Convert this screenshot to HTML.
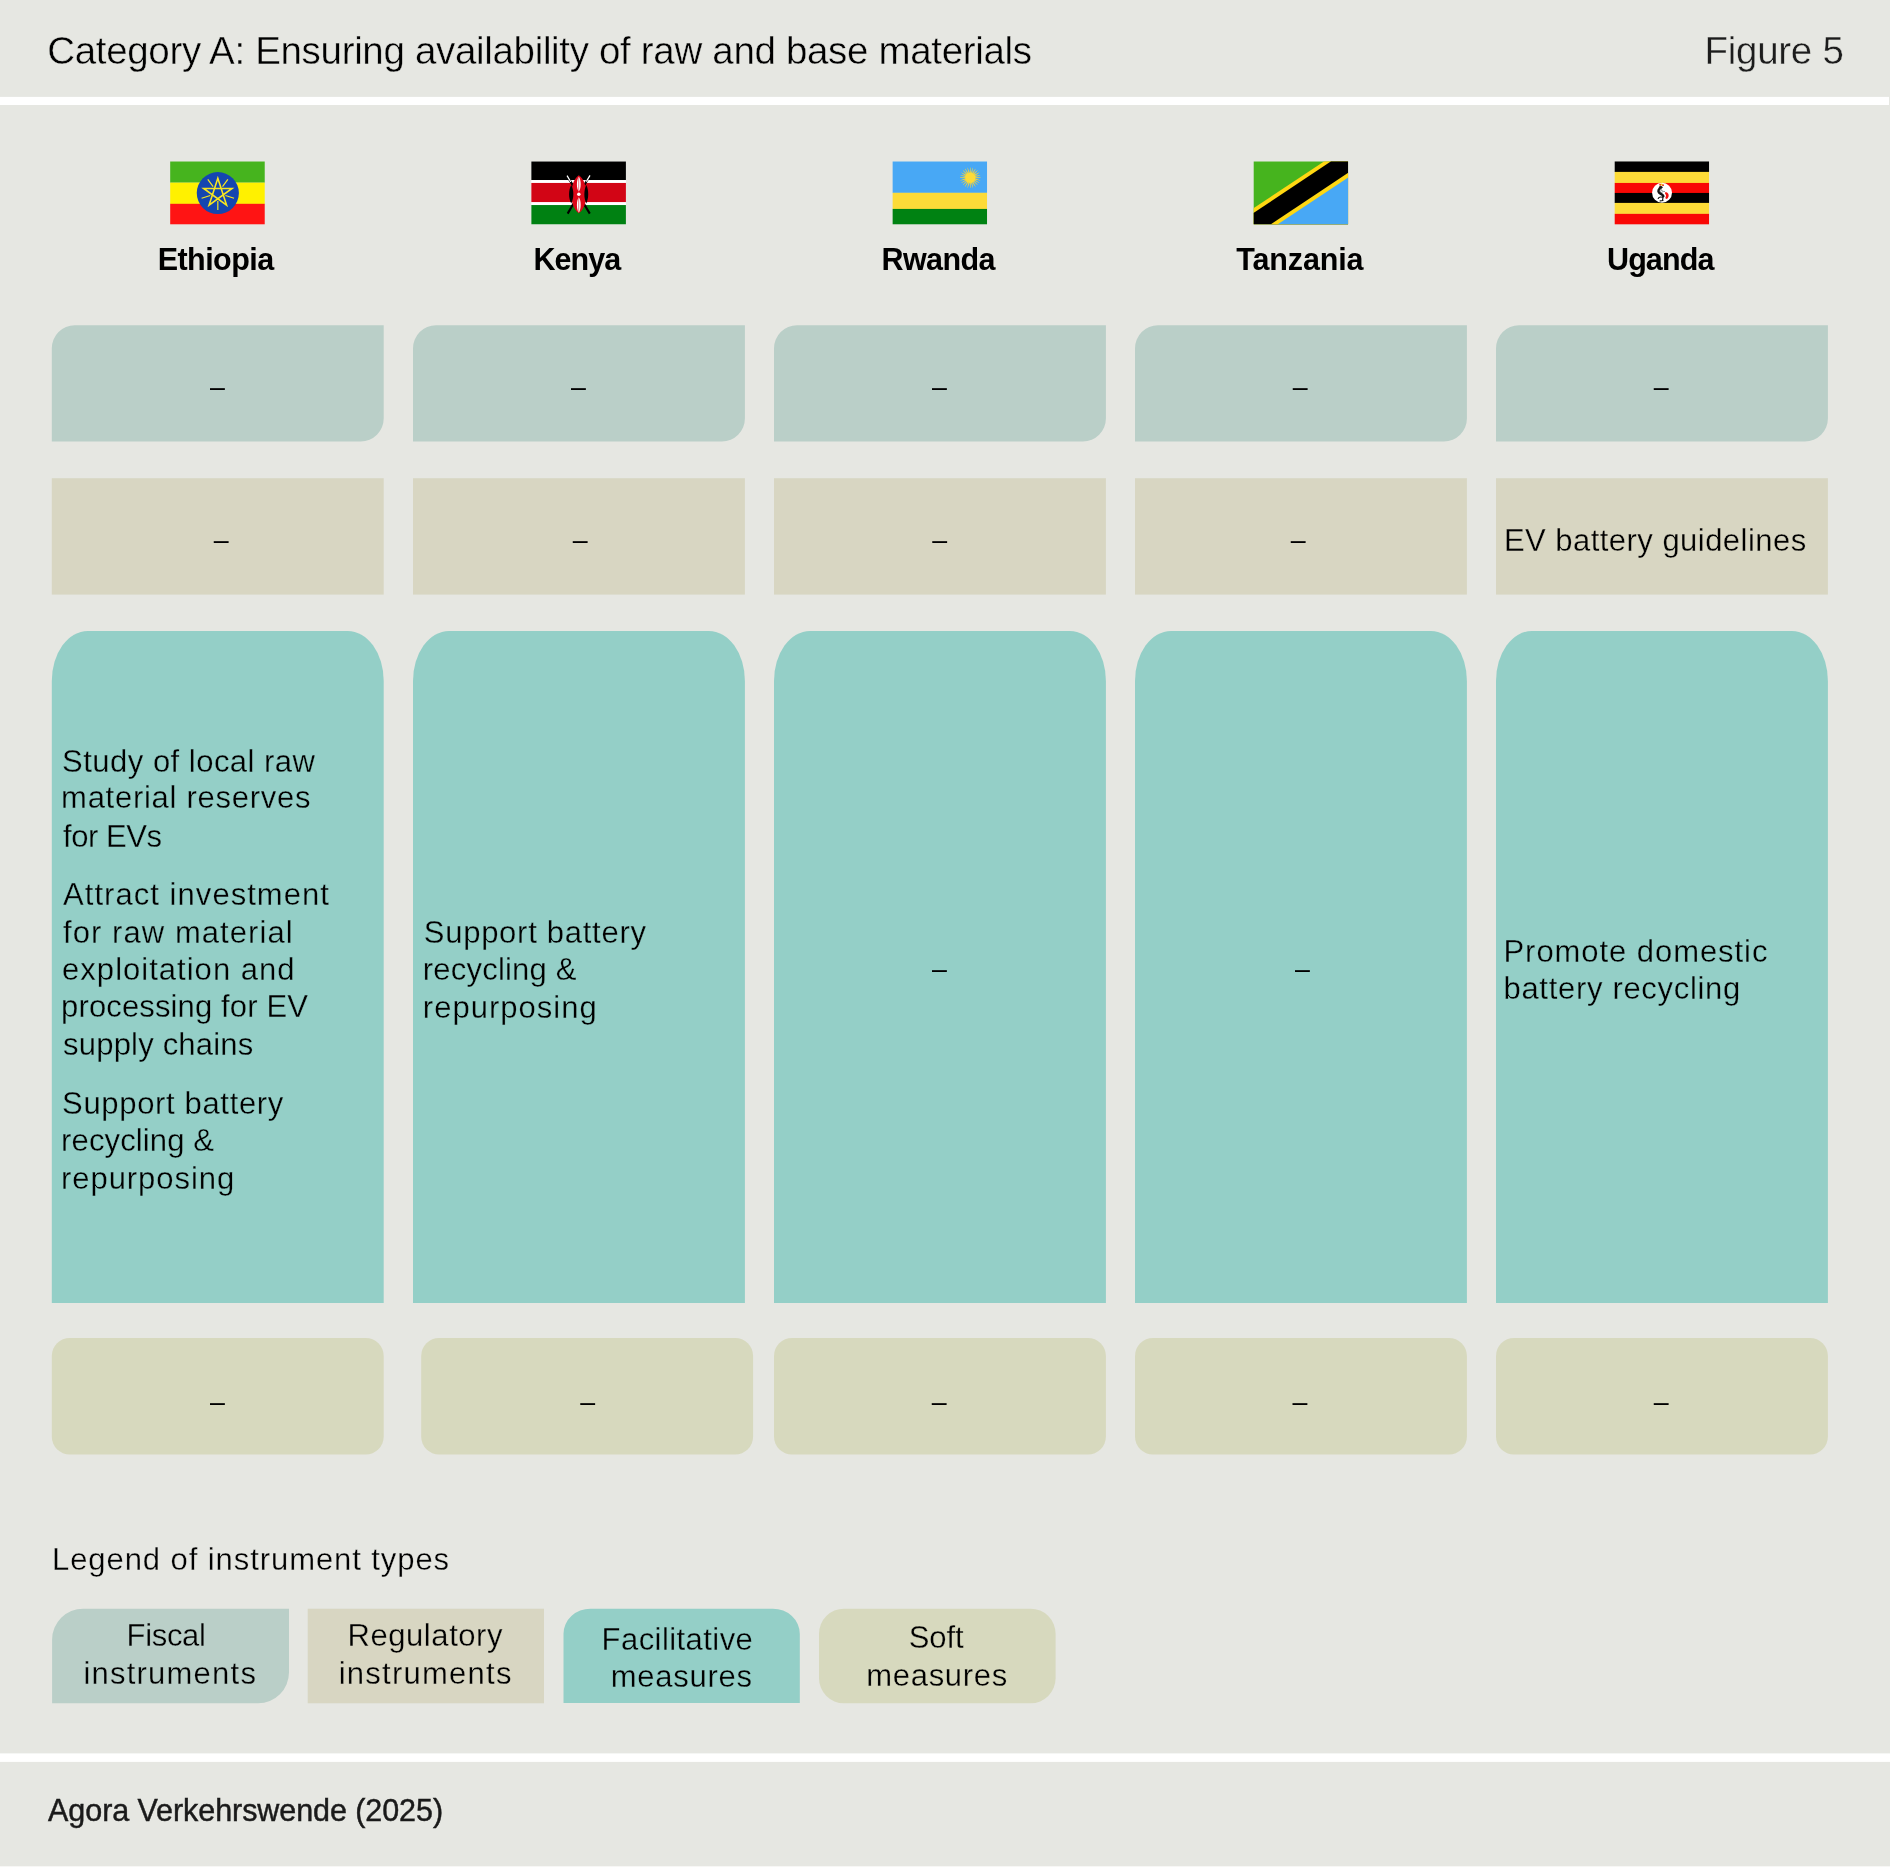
<!DOCTYPE html>
<html lang="en"><head><meta charset="utf-8"><title>Category A: Ensuring availability of raw and base materials</title>
<style>
html,body{margin:0;padding:0}
body{width:1890px;height:1867px;background:#E6E7E2;position:relative;overflow:hidden;font-family:"Liberation Sans",sans-serif}
.tx{position:absolute;left:0;top:0;width:1890px;height:1867px;will-change:transform}
.t{position:absolute;white-space:nowrap;display:block}
.fl{position:absolute;left:0;top:0;display:block}
</style></head><body>
<svg class="fl" width="1890" height="1867" viewBox="0 0 1890 1867">
<path fill="#BACFC8" d="M74.80,325.2 H383.70 V418.40 A23,23 0 0 1 360.70,441.40 H51.8 V348.20 A23,23 0 0 1 74.80,325.2 Z"/>
<rect fill="#D8D6C2" x="51.8" y="478.2" width="331.9" height="116.4"/>
<path fill="#94CFC7" d="M51.8,1302.90 V680.90 A36,50 0 0 1 87.80,630.9 H347.70 A36,50 0 0 1 383.70,680.90 V1302.90 Z"/>
<path fill="#BACFC8" d="M436.00,325.2 H744.90 V418.40 A23,23 0 0 1 721.90,441.40 H413.0 V348.20 A23,23 0 0 1 436.00,325.2 Z"/>
<rect fill="#D8D6C2" x="413.0" y="478.2" width="331.9" height="116.4"/>
<path fill="#94CFC7" d="M413.0,1302.90 V680.90 A36,50 0 0 1 449.00,630.9 H708.90 A36,50 0 0 1 744.90,680.90 V1302.90 Z"/>
<path fill="#BACFC8" d="M797.00,325.2 H1105.90 V418.40 A23,23 0 0 1 1082.90,441.40 H774.0 V348.20 A23,23 0 0 1 797.00,325.2 Z"/>
<rect fill="#D8D6C2" x="774.0" y="478.2" width="331.9" height="116.4"/>
<path fill="#94CFC7" d="M774.0,1302.90 V680.90 A36,50 0 0 1 810.00,630.9 H1069.90 A36,50 0 0 1 1105.90,680.90 V1302.90 Z"/>
<path fill="#BACFC8" d="M1158.00,325.2 H1466.90 V418.40 A23,23 0 0 1 1443.90,441.40 H1135.0 V348.20 A23,23 0 0 1 1158.00,325.2 Z"/>
<rect fill="#D8D6C2" x="1135.0" y="478.2" width="331.9" height="116.4"/>
<path fill="#94CFC7" d="M1135.0,1302.90 V680.90 A36,50 0 0 1 1171.00,630.9 H1430.90 A36,50 0 0 1 1466.90,680.90 V1302.90 Z"/>
<path fill="#BACFC8" d="M1519.00,325.2 H1827.90 V418.40 A23,23 0 0 1 1804.90,441.40 H1496.0 V348.20 A23,23 0 0 1 1519.00,325.2 Z"/>
<rect fill="#D8D6C2" x="1496.0" y="478.2" width="331.9" height="116.4"/>
<path fill="#94CFC7" d="M1496.0,1302.90 V680.90 A36,50 0 0 1 1532.00,630.9 H1791.90 A36,50 0 0 1 1827.90,680.90 V1302.90 Z"/>
<rect fill="#D7D9BE" x="51.8" y="1338" width="331.9" height="116.5" rx="18" ry="18"/>
<rect fill="#D7D9BE" x="421.2" y="1338" width="331.9" height="116.5" rx="18" ry="18"/>
<rect fill="#D7D9BE" x="774.0" y="1338" width="331.9" height="116.5" rx="18" ry="18"/>
<rect fill="#D7D9BE" x="1135.0" y="1338" width="331.9" height="116.5" rx="18" ry="18"/>
<rect fill="#D7D9BE" x="1496.0" y="1338" width="331.9" height="116.5" rx="18" ry="18"/>
<path fill="#BACFC8" d="M83.10,1608.7 H289.00 V1672.30 A31,31 0 0 1 258.00,1703.30 H52.1 V1639.70 A31,31 0 0 1 83.10,1608.7 Z"/>
<rect fill="#D8D6C2" x="307.7" y="1608.7" width="236.3" height="94.6"/>
<path fill="#94CFC7" d="M563.5,1703.00 V1633.70 A27,25 0 0 1 590.50,1608.7 H772.80 A27,25 0 0 1 799.80,1633.70 V1703.00 Z"/>
<rect fill="#D7D9BE" x="819" y="1608.7" width="236.6" height="94.6" rx="25" ry="25"/>
<rect fill="#fff" x="0" y="96.9" width="1889" height="8.1"/>
<rect fill="#fff" x="0" y="1753.4" width="1890" height="8.5"/>
<rect fill="#F7F7F5" x="0" y="1866" width="1890" height="1"/>
</svg>
<svg class="fl" width="1890" height="300" viewBox="0 0 1890 300">
<svg x="170.1" y="161.35" width="94.75" height="63.2" viewBox="0 0 94.9 63.5" preserveAspectRatio="none"><rect width="94.9" height="21.45" fill="#46B41E"/><rect y="21.4" width="94.9" height="21.4" fill="#FFF100"/><rect y="42.65" width="94.9" height="20.85" fill="#FF1414"/><circle cx="47.8" cy="31.85" r="21.1" fill="#1446B0"/><path d="M47.80,16.95 L56.56,43.90 L33.63,27.25 L61.97,27.25 L39.04,43.90Z" fill="none" stroke="#F7E521" stroke-width="1.6" stroke-linejoin="miter"/><path d="M52.50,25.38L57.85,18.02M55.41,34.32L64.06,37.13M47.80,39.85L47.80,48.95M40.19,34.32L31.54,37.13M43.10,25.38L37.75,18.02" fill="none" stroke="#F7E521" stroke-width="1.2"/></svg>
<svg x="531.2" y="161.35" width="94.75" height="63.2" viewBox="0 0 94.9 63.5" preserveAspectRatio="none"><rect width="94.9" height="63.5" fill="#fff"/><rect width="94.9" height="18.75" fill="#000"/><rect y="21.7" width="94.9" height="19.2" fill="#D20515"/><rect y="43.9" width="94.9" height="19.6" fill="#008112"/><path d="M35.7,14.1 L58.7,52.5 M59.1,13.8 L36.5,52.5" stroke="#000" stroke-width="2.1" fill="none"/><path d="M35.9,14.4 L39.7,20.7 M58.9,14.1 L55.2,20.4" stroke="#fff" stroke-width="1.25" fill="none"/><path d="M47.7,14.049999999999997 C53.6,18.449999999999996 54.900000000000006,25.449999999999996 54.900000000000006,33.05 C54.900000000000006,40.65 53.6,47.65 47.7,52.05 C41.800000000000004,47.65 40.5,40.65 40.5,33.05 C40.5,25.449999999999996 41.800000000000004,18.449999999999996 47.7,14.049999999999997Z" fill="#DC0617"/><path d="M40.1,23.849999999999998 C42.96666666666667,28.909999999999997 42.96666666666667,37.19 40.1,42.25 C37.233333333333334,37.19 37.233333333333334,28.909999999999997 40.1,23.849999999999998Z M55.2,23.849999999999998 C57.800000000000004,28.909999999999997 57.800000000000004,37.19 55.2,42.25 C52.6,37.19 52.6,28.909999999999997 55.2,23.849999999999998Z" fill="#000"/><path d="M47.7,15.349999999999998 C50.233333333333334,18.199999999999996 50.233333333333334,27.5 47.7,30.349999999999998 C45.16666666666667,27.5 45.16666666666667,18.199999999999996 47.7,15.349999999999998Z M47.7,36.05 C50.233333333333334,38.976 50.233333333333334,48.524 47.7,51.45 C45.16666666666667,48.524 45.16666666666667,38.976 47.7,36.05Z" fill="#fff"/><path d="M47.6,16.049999999999997 V29.65 M47.6,36.65 V50.65" stroke="#DC0617" stroke-width="0.55"/><circle cx="47.7" cy="33.15" r="1.75" fill="#fff"/></svg>
<svg x="892.4" y="161.35" width="94.75" height="63.2" viewBox="0 0 94.9 63.5" preserveAspectRatio="none"><rect width="94.9" height="31.7" fill="#48A8F5"/><rect y="31.6" width="94.9" height="16.3" fill="#FDDB38"/><rect y="47.8" width="94.9" height="15.7" fill="#008212"/><path d="M82.20,17.07L82.20,15.83L88.30,16.29L88.30,16.61ZM81.90,18.14L82.22,16.94L87.99,18.96L87.91,19.27ZM81.33,19.09L81.95,18.01L87.00,21.46L86.84,21.74ZM80.53,19.86L81.41,18.98L85.40,23.62L85.17,23.85ZM79.56,20.40L80.64,19.78L83.29,25.29L83.01,25.45ZM78.49,20.67L79.69,20.35L80.82,26.36L80.51,26.44ZM77.38,20.65L78.62,20.65L78.16,26.75L77.84,26.75ZM76.31,20.35L77.51,20.67L75.49,26.44L75.18,26.36ZM75.36,19.78L76.44,20.40L72.99,25.45L72.71,25.29ZM74.59,18.98L75.47,19.86L70.83,23.85L70.60,23.62ZM74.05,18.01L74.67,19.09L69.16,21.74L69.00,21.46ZM73.78,16.94L74.10,18.14L68.09,19.27L68.01,18.96ZM73.80,15.83L73.80,17.07L67.70,16.61L67.70,16.29ZM74.10,14.76L73.78,15.96L68.01,13.94L68.09,13.63ZM74.67,13.81L74.05,14.89L69.00,11.44L69.16,11.16ZM75.47,13.04L74.59,13.92L70.60,9.28L70.83,9.05ZM76.44,12.50L75.36,13.12L72.71,7.61L72.99,7.45ZM77.51,12.23L76.31,12.55L75.18,6.54L75.49,6.46ZM78.62,12.25L77.38,12.25L77.84,6.15L78.16,6.15ZM79.69,12.55L78.49,12.23L80.51,6.46L80.82,6.54ZM80.64,13.12L79.56,12.50L83.01,7.45L83.29,7.61ZM81.41,13.92L80.53,13.04L85.17,9.05L85.40,9.28ZM81.95,14.89L81.33,13.81L86.84,11.16L87.00,11.44ZM82.22,15.96L81.90,14.76L87.91,13.63L87.99,13.94Z" fill="#F6D63A"/><circle cx="78.0" cy="16.45" r="5.0" fill="#FDDB38"/></svg>
<svg x="1253.45" y="161.35" width="94.75" height="63.2" viewBox="0 0 94.9 63.5" preserveAspectRatio="none"><rect width="94.9" height="63.5" fill="#46B41E"/><path d="M0,47.1 L71.0,0 H94.9 V63.5 H0Z" fill="#FFD712"/><path d="M0,52.0 L77.8,0 H94.9 V63.5 H0Z" fill="#000"/><path d="M17.1,63.5 L94.9,11.5 V63.5Z" fill="#FFD712"/><path d="M24.0,63.5 L94.9,16.3 V63.5Z" fill="#48A8F5"/></svg>
<svg x="1614.46" y="161.35" width="94.75" height="63.2" viewBox="0 0 94.9 63.5" preserveAspectRatio="none"><rect y="-0.05" width="94.9" height="10.75" fill="#000"/><rect y="10.60" width="94.9" height="11.20" fill="#FDDB38"/><rect y="21.70" width="94.9" height="10.15" fill="#F90805"/><rect y="31.75" width="94.9" height="10.10" fill="#000"/><rect y="41.75" width="94.9" height="11.10" fill="#FDDB38"/><rect y="52.75" width="94.9" height="10.80" fill="#F90805"/><circle cx="47.65" cy="31.6" r="10" fill="#fff"/><g transform="translate(47.65,31.6)"><circle cx="-1.8" cy="-8.1" r="0.95" fill="#E8140F"/><circle cx="-0.4" cy="-8.3" r="1.0" fill="#F2D20F"/><circle cx="1.0" cy="-7.7" r="0.95" fill="#E4360F"/><ellipse cx="-1.3" cy="-5.6" rx="1.8" ry="1.35" fill="#1d1d1d"/><circle cx="-1.9" cy="-5.5" r="0.6" fill="#D9251F"/><path d="M-1.4,-5 C-3.4,-3.6 -4.3,-1.6 -2.9,-0.1 C-1.6,1.2 0.7,1.5 1.3,3.4" fill="none" stroke="#161616" stroke-width="2.5" stroke-linecap="round"/><path d="M-1.1,-3.6 C-1,-2.2 0.4,-1.1 2.5,-1.3" fill="none" stroke="#868b88" stroke-width="1.0" stroke-linecap="round"/><path d="M-2.2,-2.6 C-1.8,-1.2 -0.6,-0.2 0.8,0.4" fill="none" stroke="#6f7472" stroke-width="0.7"/><path d="M1.2,3.2 L0.5,7.6 M-1.9,8.1 L1.0,7.7 M0.7,4.5 C-1,4 -3,4.1 -3.8,5.6" fill="none" stroke="#111" stroke-width="1.15" stroke-linecap="round"/><path d="M3.5,-0.8 C5.8,-0.7 7,1.4 6.6,3.5 C6.2,5.2 5.1,6.3 4.2,6.1 C3,5.6 3.3,4.3 3.9,3.4 C4.4,2.3 3.3,1.3 2.9,0.4Z" fill="#F5120F"/></g></svg>
</svg>
<div class="tx">
<span class="t" style="left:47.20px;top:26px;font-size:38.5px;line-height:50px;letter-spacing:-0.323px;font-weight:400;color:#000;-webkit-text-stroke:0.4px #E6E7E2">Category A: Ensuring availability of raw and base materials</span>
<span class="t" style="left:1704.50px;top:26px;font-size:38.5px;line-height:50px;letter-spacing:-0.275px;font-weight:400;color:#1c1c1c;-webkit-text-stroke:0.4px #E6E7E2">Figure 5</span>
<span class="t" style="left:157.70px;top:239px;font-size:30.5px;line-height:40px;letter-spacing:-0.549px;font-weight:700;color:#000">Ethiopia</span>
<span class="t" style="left:533.50px;top:239px;font-size:30.5px;line-height:40px;letter-spacing:-0.946px;font-weight:700;color:#000">Kenya</span>
<span class="t" style="left:881.50px;top:239px;font-size:30.5px;line-height:40px;letter-spacing:-0.575px;font-weight:700;color:#000">Rwanda</span>
<span class="t" style="left:1236.20px;top:239px;font-size:30.5px;line-height:40px;letter-spacing:-0.125px;font-weight:700;color:#000">Tanzania</span>
<span class="t" style="left:1607.00px;top:239px;font-size:30.5px;line-height:40px;letter-spacing:-0.896px;font-weight:700;color:#000">Uganda</span>
<span class="t" style="left:62.10px;top:742px;font-size:31px;line-height:40px;letter-spacing:0.483px;font-weight:400;color:#000;-webkit-text-stroke:0.3px #94CFC7">Study of local raw</span>
<span class="t" style="left:61.10px;top:778px;font-size:31px;line-height:40px;letter-spacing:0.729px;font-weight:400;color:#000;-webkit-text-stroke:0.3px #94CFC7">material reserves</span>
<span class="t" style="left:63.10px;top:817px;font-size:31px;line-height:40px;letter-spacing:-0.474px;font-weight:400;color:#000;-webkit-text-stroke:0.3px #94CFC7">for EVs</span>
<span class="t" style="left:63.10px;top:875px;font-size:31px;line-height:40px;letter-spacing:1.042px;font-weight:400;color:#000;-webkit-text-stroke:0.3px #94CFC7">Attract investment</span>
<span class="t" style="left:63.10px;top:913px;font-size:31px;line-height:40px;letter-spacing:1.059px;font-weight:400;color:#000;-webkit-text-stroke:0.3px #94CFC7">for raw material</span>
<span class="t" style="left:62.10px;top:950px;font-size:31px;line-height:40px;letter-spacing:1.018px;font-weight:400;color:#000;-webkit-text-stroke:0.3px #94CFC7">exploitation and</span>
<span class="t" style="left:61.10px;top:987px;font-size:31px;line-height:40px;letter-spacing:0.132px;font-weight:400;color:#000;-webkit-text-stroke:0.3px #94CFC7">processing for EV</span>
<span class="t" style="left:63.10px;top:1025px;font-size:31px;line-height:40px;letter-spacing:0.189px;font-weight:400;color:#000;-webkit-text-stroke:0.3px #94CFC7">supply chains</span>
<span class="t" style="left:62.10px;top:1084px;font-size:31px;line-height:40px;letter-spacing:0.660px;font-weight:400;color:#000;-webkit-text-stroke:0.3px #94CFC7">Support battery</span>
<span class="t" style="left:61.10px;top:1121px;font-size:31px;line-height:40px;letter-spacing:0.127px;font-weight:400;color:#000;-webkit-text-stroke:0.3px #94CFC7">recycling &amp;</span>
<span class="t" style="left:61.10px;top:1159px;font-size:31px;line-height:40px;letter-spacing:0.932px;font-weight:400;color:#000;-webkit-text-stroke:0.3px #94CFC7">repurposing</span>
<span class="t" style="left:423.80px;top:913px;font-size:31px;line-height:40px;letter-spacing:0.731px;font-weight:400;color:#000;-webkit-text-stroke:0.3px #94CFC7">Support battery</span>
<span class="t" style="left:422.80px;top:950px;font-size:31px;line-height:40px;letter-spacing:0.207px;font-weight:400;color:#000;-webkit-text-stroke:0.3px #94CFC7">recycling &amp;</span>
<span class="t" style="left:422.80px;top:988px;font-size:31px;line-height:40px;letter-spacing:1.012px;font-weight:400;color:#000;-webkit-text-stroke:0.3px #94CFC7">repurposing</span>
<span class="t" style="left:1503.50px;top:932px;font-size:31px;line-height:40px;letter-spacing:0.939px;font-weight:400;color:#000;-webkit-text-stroke:0.3px #94CFC7">Promote domestic</span>
<span class="t" style="left:1503.50px;top:969px;font-size:31px;line-height:40px;letter-spacing:0.690px;font-weight:400;color:#000;-webkit-text-stroke:0.3px #94CFC7">battery recycling</span>
<span class="t" style="left:1503.90px;top:521px;font-size:31px;line-height:40px;letter-spacing:0.467px;font-weight:400;color:#000;-webkit-text-stroke:0.3px #D8D6C2">EV battery guidelines</span>
<span class="t" style="left:52.00px;top:1540px;font-size:31px;line-height:40px;letter-spacing:0.926px;font-weight:400;color:#000;-webkit-text-stroke:0.3px #E6E7E2">Legend of instrument types</span>
<span class="t" style="left:126.60px;top:1616px;font-size:31px;line-height:40px;letter-spacing:-0.333px;font-weight:400;color:#000;-webkit-text-stroke:0.3px #BACFC8">Fiscal</span>
<span class="t" style="left:83.40px;top:1654px;font-size:31px;line-height:40px;letter-spacing:1.228px;font-weight:400;color:#000;-webkit-text-stroke:0.3px #BACFC8">instruments</span>
<span class="t" style="left:347.50px;top:1616px;font-size:31px;line-height:40px;letter-spacing:0.565px;font-weight:400;color:#000;-webkit-text-stroke:0.3px #D8D6C2">Regulatory</span>
<span class="t" style="left:338.70px;top:1654px;font-size:31px;line-height:40px;letter-spacing:1.258px;font-weight:400;color:#000;-webkit-text-stroke:0.3px #D8D6C2">instruments</span>
<span class="t" style="left:601.60px;top:1620px;font-size:31px;line-height:40px;letter-spacing:0.437px;font-weight:400;color:#000;-webkit-text-stroke:0.3px #94CFC7">Facilitative</span>
<span class="t" style="left:610.70px;top:1657px;font-size:31px;line-height:40px;letter-spacing:0.756px;font-weight:400;color:#000;-webkit-text-stroke:0.3px #94CFC7">measures</span>
<span class="t" style="left:908.80px;top:1618px;font-size:31px;line-height:40px;letter-spacing:-0.110px;font-weight:400;color:#000;-webkit-text-stroke:0.3px #D7D9BE">Soft</span>
<span class="t" style="left:866.30px;top:1656px;font-size:31px;line-height:40px;letter-spacing:0.684px;font-weight:400;color:#000;-webkit-text-stroke:0.3px #D7D9BE">measures</span>
<span class="t" style="left:48.10px;top:1790px;font-size:30.5px;line-height:40px;letter-spacing:-0.071px;font-weight:400;color:#1a1a1a;-webkit-text-stroke:0.45px #1a1a1a">Agora Verkehrswende (2025)</span>
<span class="t" style="left:210.00px;top:369px;font-size:26.786px;line-height:36px;color:#000">–</span>
<span class="t" style="left:571.00px;top:369px;font-size:26.786px;line-height:36px;color:#000">–</span>
<span class="t" style="left:932.00px;top:369px;font-size:26.786px;line-height:36px;color:#000">–</span>
<span class="t" style="left:1292.80px;top:369px;font-size:26.786px;line-height:36px;color:#000">–</span>
<span class="t" style="left:1653.80px;top:369px;font-size:26.786px;line-height:36px;color:#000">–</span>
<span class="t" style="left:213.80px;top:522px;font-size:26.786px;line-height:36px;color:#000">–</span>
<span class="t" style="left:572.80px;top:522px;font-size:26.786px;line-height:36px;color:#000">–</span>
<span class="t" style="left:932.20px;top:522px;font-size:26.786px;line-height:36px;color:#000">–</span>
<span class="t" style="left:1290.80px;top:522px;font-size:26.786px;line-height:36px;color:#000">–</span>
<span class="t" style="left:931.90px;top:951px;font-size:26.786px;line-height:36px;color:#000">–</span>
<span class="t" style="left:1295.00px;top:951px;font-size:26.786px;line-height:36px;color:#000">–</span>
<span class="t" style="left:210.00px;top:1384px;font-size:26.786px;line-height:36px;color:#000">–</span>
<span class="t" style="left:580.20px;top:1384px;font-size:26.786px;line-height:36px;color:#000">–</span>
<span class="t" style="left:931.80px;top:1384px;font-size:26.786px;line-height:36px;color:#000">–</span>
<span class="t" style="left:1292.50px;top:1384px;font-size:26.786px;line-height:36px;color:#000">–</span>
<span class="t" style="left:1653.80px;top:1384px;font-size:26.786px;line-height:36px;color:#000">–</span>
</div>
</body></html>
